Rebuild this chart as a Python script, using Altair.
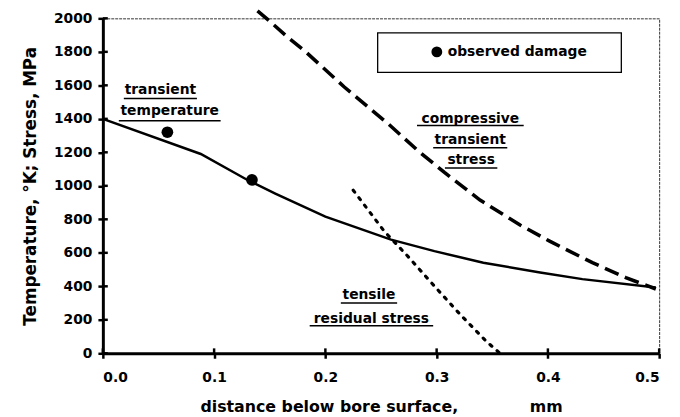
import altair as alt
import pandas as pd

# ---- data ----
temp_x = [0.0, 0.088, 0.130, 0.155, 0.200, 0.259, 0.298, 0.342, 0.393, 0.431, 0.497]
temp_y = [1400, 1190, 1035, 954, 816, 679, 610, 541, 482, 443, 393]

comp_x = [0.139, 0.147, 0.164, 0.183, 0.217, 0.257, 0.283, 0.307, 0.339, 0.375, 0.402, 0.440, 0.470, 0.497]
comp_y = [2045, 2000, 1900, 1796, 1590, 1367, 1211, 1080, 915, 766, 668, 541, 452, 384]

res_x = [0.225, 0.253, 0.274, 0.295, 0.322, 0.345, 0.357]
res_y = [974, 728, 580, 423, 226, 69, 0]

damage_x = [0.058, 0.134]
damage_y = [1320, 1035]
damage_label = "observed damage"

x_ticks = [0.0, 0.1, 0.2, 0.3, 0.4, 0.5]
y_ticks = [0, 200, 400, 600, 800, 1000, 1200, 1400, 1600, 1800, 2000]

ann_text = ["transient", "temperature", "compressive", "transient", "stress", "tensile", "residual stress"]
ann_x = [0.0517, 0.0601, 0.3303, 0.3302, 0.3310, 0.2392, 0.2414]
ann_y = [1569, 1445, 1401, 1274, 1156, 348, 206]
ann_uy = [1522, 1389, 1360, 1227, 1106, 301, 165]
ann_w = [0.0657, 0.0915, 0.0959, 0.0666, 0.0471, 0.0506, 0.1110]

# legend frame extent (data units)
box_x = [0.247, 0.466]
box_y = [1913, 1677]

W, H = 563, 339
FONT = "DejaVu Sans"
NB = "\u00a0"

xs = alt.Scale(domain=[0, 0.5], nice=False, zero=False)
ys = alt.Scale(domain=[0, 2000], nice=False)

X = alt.X("x:Q", scale=xs, axis=alt.Axis(
    values=x_ticks, format=".1f",
    title="distance below bore surface," + NB * 13 + "mm",
    grid=False, domainColor="black", domainWidth=3, tickColor="black", tickWidth=2.5, tickSize=5,
    labelFont=FONT, labelFontWeight="bold", labelFontSize=14, labelColor="black", labelPadding=13,
    titleFont=FONT, titleFontWeight="bold", titleFontSize=16, titleColor="black", titlePadding=14))
Y = alt.Y("y:Q", scale=ys, axis=alt.Axis(
    values=y_ticks, format="d", title="Temperature, \u00b0K; Stress, MPa",
    grid=False, domainColor="black", domainWidth=3, tickColor="black", tickWidth=2.5, tickSize=5,
    labelFont=FONT, labelFontWeight="bold", labelFontSize=14, labelColor="black", labelPadding=6,
    titleFont=FONT, titleFontWeight="bold", titleFontSize=17, titleColor="black", titlePadding=14))

temp_df = pd.DataFrame({"x": temp_x, "y": temp_y})
comp_df = pd.DataFrame({"x": comp_x, "y": comp_y})
res_df = pd.DataFrame({"x": res_x, "y": res_y})
dmg_df = pd.DataFrame({"x": damage_x, "y": damage_y, "s": [damage_label] * len(damage_x)})
ann_df = pd.DataFrame({"x": ann_x, "y": ann_y, "t": ann_text})
und_df = pd.DataFrame({
    "x": [a - w / 2 for a, w in zip(ann_x, ann_w)],
    "x2": [a + w / 2 for a, w in zip(ann_x, ann_w)],
    "y": ann_uy,
})
box_df = pd.DataFrame({"x": [box_x[0]], "x2": [box_x[1]], "y": [box_y[0]], "y2": [box_y[1]]})
xt_df = pd.DataFrame({"x": x_ticks})
yt_df = pd.DataFrame({"y": y_ticks})

temp_line = alt.Chart(temp_df).mark_line(color="black", strokeWidth=2.5).encode(x=X, y=Y)
comp_line = alt.Chart(comp_df).mark_line(color="black", strokeWidth=3.6, strokeDash=[15, 7]).encode(x=X, y=Y)
res_line = alt.Chart(res_df).mark_line(color="black", strokeWidth=3.2, strokeDash=[2.5, 7], strokeCap="round").encode(x=X, y=Y)

points = alt.Chart(dmg_df).mark_circle(size=140, opacity=1).encode(
    x=X, y=Y,
    color=alt.Color("s:N", scale=alt.Scale(range=["black"]), legend=alt.Legend(
        title=None, orient="none", legendX=278, legendY=14,
        padding=13, symbolType="circle", symbolSize=120,
        symbolOffset=40, symbolStrokeWidth=0, labelLimit=400,
        labelFont=FONT, labelFontWeight="bold", labelFontSize=14, labelColor="black")))

box = alt.Chart(box_df).mark_rect(fill="white", fillOpacity=0, stroke="black", strokeWidth=1.3).encode(
    x=X, x2="x2:Q", y=Y, y2="y2:Q")

texts = alt.Chart(ann_df).mark_text(font=FONT, fontWeight="bold", fontSize=14, color="black",
                                    align="center", baseline="middle").encode(x=X, y=Y, text="t:N")
unders = alt.Chart(und_df).mark_rule(color="black", strokeWidth=1.5).encode(x=X, x2="x2:Q", y=Y)

xt_in = alt.Chart(xt_df).mark_rule(color="black", strokeWidth=2.5).encode(
    x=X, y=alt.value(H), y2=alt.value(H - 5))
yt_in = alt.Chart(yt_df).mark_rule(color="black", strokeWidth=2.5).encode(
    y=Y, x=alt.value(0), x2=alt.value(5))

chart = alt.layer(box, unders, texts, temp_line, comp_line, res_line, xt_in, yt_in, points).properties(
    width=W, height=H,
    autosize=alt.AutoSizeParams(type="none"),
    padding={"left": 96, "top": 8, "right": 13, "bottom": 62},
    background="white",
).configure_view(stroke="#333", strokeWidth=1, strokeDash=[3, 1])

chart.save("out.html", embed_options={"renderer": "svg", "actions": False})
